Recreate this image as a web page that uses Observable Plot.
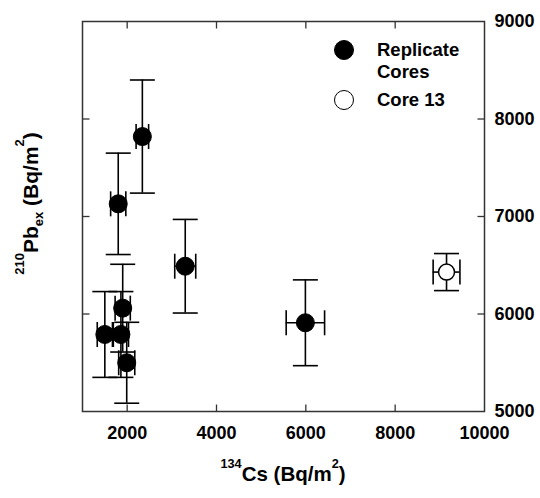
<!DOCTYPE html>
<html>
<head>
<meta charset="utf-8">
<script src="https://cdn.jsdelivr.net/npm/d3@7"></script>
<script src="https://cdn.jsdelivr.net/npm/@observablehq/plot@0.6"></script>
<style>
  html, body { margin: 0; padding: 0; background: #fff; }
  #wrap { position: relative; width: 540px; height: 498px; font-family: "Liberation Sans", Arial, sans-serif; font-weight: bold; color: #000; overflow: hidden; }
  #wrap svg { position: absolute; left: 0; top: 0; }
  .lab { position: absolute; white-space: nowrap; text-align: center; }
  .sup { font-size: 0.62em; position: relative; top: -1.05em; }
  .sub { font-size: 0.62em; position: relative; top: 0.4em; }
  .leg { position: absolute; font-size: 18.5px; line-height: 22px; white-space: nowrap; }
  .dot { position: absolute; width: 20px; height: 20px; border-radius: 50%; box-sizing: border-box; }
</style>
</head>
<body>
<div id="wrap"></div>
<script>
// Replicate cores
const repCs    = [1500, 1860, 1900, 1990, 1800, 2340, 3300, 5990];
const repCsErr = [170, 170, 170, 180, 170, 140, 235, 430];
const repPb    = [5790, 5790, 6060, 5500, 7130, 7820, 6490, 5910];
const repPbErr = [440, 440, 450, 415, 520, 580, 480, 440];
// Core 13
const c13Cs    = [9150];
const c13CsErr = [300];
const c13Pb    = [6430];
const c13PbErr = [190];

const xTicks = [2000, 4000, 6000, 8000, 10000];
const xInnerTicks = [2000, 4000, 6000, 8000];
const yTicks = [5000, 6000, 7000, 8000, 9000];
const yInnerTicks = [6000, 7000, 8000];

const rep = repCs.map((c, i) => ({cs: c, csErr: repCsErr[i], pb: repPb[i], pbErr: repPbErr[i], grp: "Replicate Cores"}));
const c13 = c13Cs.map((c, i) => ({cs: c, csErr: c13CsErr[i], pb: c13Pb[i], pbErr: c13PbErr[i], grp: "Core 13"}));
const all = rep.concat(c13);

// symbols (size = r^2 * PI  ->  r = sqrt(size / PI))
const len = size => Math.sqrt(size / Math.PI);
const hCap = {draw(ctx, size) { const h = len(size); ctx.moveTo(-h, 0); ctx.lineTo(h, 0); }};
const vCap = {draw(ctx, size) { const h = len(size); ctx.moveTo(0, -h); ctx.lineTo(0, h); }};
const tickUp    = {draw(ctx, size) { ctx.moveTo(0, 0); ctx.lineTo(0, -len(size)); }};
const tickDown  = {draw(ctx, size) { ctx.moveTo(0, 0); ctx.lineTo(0, len(size)); }};
const tickRight = {draw(ctx, size) { ctx.moveTo(0, 0); ctx.lineTo(len(size), 0); }};
const tickLeft  = {draw(ctx, size) { ctx.moveTo(0, 0); ctx.lineTo(-len(size), 0); }};

const ink = "#000";
const axisInk = "#333";
const sw = 1.6;
const capR = 12.5;
const tickLen = 7;

const chart = Plot.plot({
  width: 540,
  height: 498,
  marginLeft: 82,
  marginRight: 56,
  marginTop: 21,
  marginBottom: 87,
  style: {fontFamily: "'Liberation Sans', Arial, sans-serif", fontWeight: "bold", fontSize: "18px", color: "#000", background: "transparent"},
  x: {domain: [1000, 10000], axis: null},
  y: {domain: [5000, 9000], axis: null},
  marks: [
    // axis tick labels
    Plot.axisX(xTicks, {anchor: "bottom", tickSize: 0, tickPadding: 15, tickFormat: d3.format("d"), label: null}),
    Plot.axisY(yTicks, {anchor: "right", tickSize: 0, tickPadding: 10, tickFormat: d3.format("d"), label: null}),
    // inward ticks on all four sides
    Plot.dot(xInnerTicks, {x: d => d, frameAnchor: "bottom", symbol: tickUp, r: tickLen, stroke: axisInk, strokeWidth: 1.3}),
    Plot.dot(xInnerTicks, {x: d => d, frameAnchor: "top", symbol: tickDown, r: tickLen, stroke: axisInk, strokeWidth: 1.3}),
    Plot.dot(yInnerTicks, {y: d => d, frameAnchor: "left", symbol: tickRight, r: tickLen, stroke: axisInk, strokeWidth: 1.3}),
    Plot.dot(yInnerTicks, {y: d => d, frameAnchor: "right", symbol: tickLeft, r: tickLen, stroke: axisInk, strokeWidth: 1.3}),
    Plot.frame({stroke: axisInk, strokeWidth: 1.5}),
    // error bars
    Plot.ruleX(all, {x: "cs", y1: d => d.pb - d.pbErr, y2: d => d.pb + d.pbErr, stroke: ink, strokeWidth: sw}),
    Plot.ruleY(all, {y: "pb", x1: d => d.cs - d.csErr, x2: d => d.cs + d.csErr, stroke: ink, strokeWidth: sw}),
    Plot.dot(all, {x: "cs", y: d => d.pb - d.pbErr, symbol: hCap, r: capR, stroke: ink, strokeWidth: sw}),
    Plot.dot(all, {x: "cs", y: d => d.pb + d.pbErr, symbol: hCap, r: capR, stroke: ink, strokeWidth: sw}),
    Plot.dot(all, {x: d => d.cs - d.csErr, y: "pb", symbol: vCap, r: capR, stroke: ink, strokeWidth: sw}),
    Plot.dot(all, {x: d => d.cs + d.csErr, y: "pb", symbol: vCap, r: capR, stroke: ink, strokeWidth: sw}),
    // points
    Plot.dot(rep, {x: "cs", y: "pb", r: 9, fill: ink, stroke: ink, strokeWidth: 1}),
    Plot.dot(c13, {x: "cs", y: "pb", r: 8, fill: "#fff", stroke: ink, strokeWidth: 1.5})
  ]
});

const wrap = document.getElementById("wrap");
wrap.appendChild(chart);

// axis titles
const xl = document.createElement("div");
xl.className = "lab";
xl.style.cssText = "left:133px; top:463px; width:300px; font-size:20.5px; line-height:21px;";
xl.innerHTML = '<span class="sup">134</span>Cs (Bq/m<span class="sup">2</span>)';
wrap.appendChild(xl);

const yl = document.createElement("div");
yl.className = "lab";
yl.style.cssText = "left:-120px; top:193px; width:300px; height:21px; font-size:21px; line-height:21px; transform:rotate(-90deg); transform-origin:50% 50%;";
yl.innerHTML = '<span class="sup">210</span>Pb<span class="sub">ex</span> (Bq/m<span class="sup">2</span>)';
wrap.appendChild(yl);

// legend
const legItems = [
  {label: "Replicate<br>Cores", fill: "#000", top: 40},
  {label: "Core 13", fill: "#fff", top: 90}
];
for (const it of legItems) {
  const d = document.createElement("div");
  d.className = "dot";
  d.style.cssText = `left:334px; top:${it.top}px; background:${it.fill}; border:1.5px solid #000;`;
  wrap.appendChild(d);
  const t = document.createElement("div");
  t.className = "leg";
  t.style.cssText = `left:377px; top:${it.top - 1}px;`;
  t.innerHTML = it.label;
  wrap.appendChild(t);
}
</script>
</body>
</html>
